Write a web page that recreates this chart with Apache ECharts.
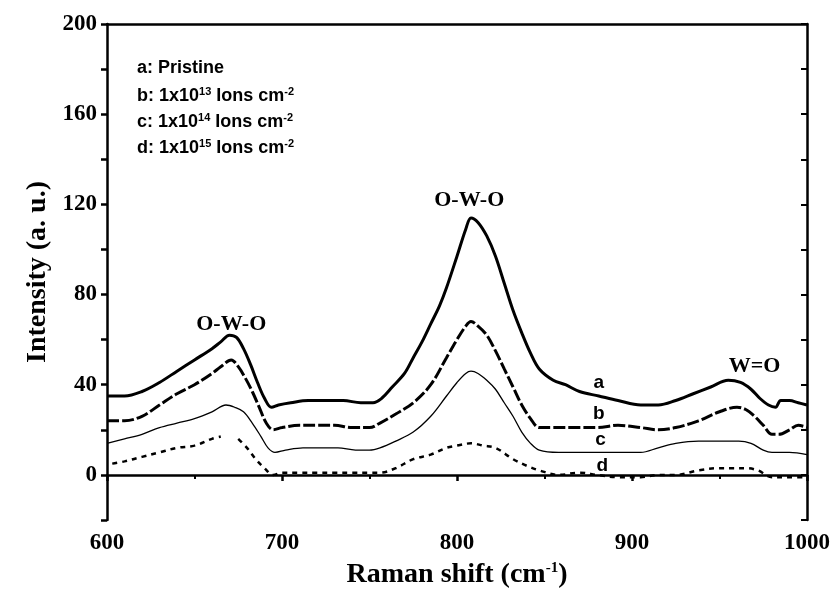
<!DOCTYPE html>
<html>
<head>
<meta charset="utf-8">
<script src="https://cdn.jsdelivr.net/npm/echarts@6/dist/echarts.min.js"></script>
<style>html,body{margin:0;padding:0;background:#fff;}#c{width:833px;height:598px;}</style>
</head>
<body>
<div id="c"></div>
<script>
// Raman shift (cm^-1) and intensity values for each curve
const xA = [600,610,620,630,640,650,660,665,670,674,678,682,686,690,694,698,705,715,725,735,745,752,757,763,770,775,780,785,790,794,800,805,808,812,817,822,827,832,837,842,847,855,862,870,881,892,905,915,925,935,945,955,962,968,973,978,982,985,990,995,1000];
const yA = [35,35,37,41,46,51,56,59,62,61,56,49,41,34,30,31,32,33,33,33,32,32,34,39,45,52,59,67,75,83,97,109,114,112,106,97,85,73,63,54,47,42,40,37,35,33,31,31,33,36,39,42,41,38,34,31,30,33,33,32,31];
const xB = [600,610,620,630,640,650,660,665,671,675,679,683,687,691,695,700,710,720,730,740,750,756,765,775,785,794,800,805,808,812,817,822,827,832,837,842,847,855,870,880,892,905,915,925,938,950,960,965,970,975,980,984,990,995,1000];
const yB = [24,24,26,31,36,40,45,48,51,48,43,37,30,23,20,21,22,22,22,21,21,23,27,32,40,52,60,66,68,66,62,55,47,39,31,25,21,21,21,21,22,21,20,21,24,28,30,29,26,22,18,18,20,22,21];
const xC = [600,610,620,630,640,650,660,668,673,678,683,688,692,696,702,712,722,732,742,750,756,765,775,785,794,800,805,808,812,817,822,827,832,837,842,847,858,870,880,892,905,915,925,938,950,961,968,975,980,990,1000];
const yC = [14,16,18,21,23,25,28,31,30,28,23,17,12,10,11,12,12,12,11,11,12,15,19,26,35,41,45,46,45,42,38,32,26,19,14,11,10,10,10,10,10,12,14,15,15,15,14,11,10,10,9];
const xD = [603,610,620,630,640,650,660,665,669,675,680,685,690,695,700,710,720,730,740,750,756,765,775,785,794,800,808,815,822,832,840,847,858,870,880,892,905,915,925,938,950,957,965,972,980,990,1000];
const yD = [5,6,8,10,12,13,16,17,null,16,12,7,3,0,1,1,1,1,1,1,1,3,7,9,12,13,14,13,12,7,4,2,0,1,0,-1,-1,0,0,2,3,3,3,2,-1,-1,-1];

const yTickLabels = ['0','40','80','120','160','200'];
const xTickLabels = ['600','700','800','900','1000'];

// annotation texts, anchored in data coordinates
const peakLabels = [['O-W-O',671,67],['O-W-O',807,122],['W=O',970,48]];
const curveLetters = [['a',881,41],['b',881,27],['c',882,15.5],['d',883,4]];

function zip(xs, ys){ return xs.map((x,i)=>[x, ys[i]]); }

const chart = echarts.init(document.getElementById('c'), null, {renderer:'canvas'});
const serifBold = {fontFamily:'Liberation Serif', fontWeight:'bold', color:'#000'};

function mk(name, xs, ys, width, type){
  return {name, type:'line', data: zip(xs, ys), showSymbol:false, smooth:0.35,
    connectNulls:false, lineStyle:{color:'#000', width, type}, z:3};
}

chart.setOption({
  animation:false,
  backgroundColor:'#fff',
  grid:{left:107, right:25, top:24, bottom:78, containLabel:false},
  xAxis:[{type:'value', min:600, max:1000, interval:100,
      axisLine:{lineStyle:{color:'#000', width:2.5}},
      axisTick:{inside:false, length:6, lineStyle:{color:'#000', width:2.5}},
      minorTick:{show:true, splitNumber:2, length:4, lineStyle:{color:'#000', width:2}},
      splitLine:{show:false},
      axisLabel:Object.assign({fontSize:23, margin:12, formatter:v=>xTickLabels.includes(String(v))?String(v):''}, serifBold),
      name:'Raman shift (cm{s|-1})', nameLocation:'middle', nameGap:41,
      nameTextStyle:Object.assign({fontSize:28, rich:{s:{fontSize:15, fontFamily:'Liberation Serif', fontWeight:'bold', verticalAlign:'top', padding:[0,0,12,0]}}}, serifBold)},
    {type:'value', position:'top', min:600, max:1000, interval:100,
      axisLine:{show:true, onZero:false, lineStyle:{color:'#000', width:2.5}},
      axisTick:{show:false}, axisLabel:{show:false}, splitLine:{show:false}}],
  yAxis:[{type:'value', min:-20, max:200, interval:20,
      axisLine:{onZero:false, lineStyle:{color:'#000', width:2.5}},
      axisTick:{length:6, lineStyle:{color:'#000', width:2.5}},
      splitLine:{show:false},
      axisLabel:Object.assign({fontSize:23, margin:10, formatter:v=>yTickLabels.includes(String(v))?String(v):''}, serifBold),
      name:'Intensity (a. u.)', nameLocation:'middle', nameGap:52, nameRotate:90,
      nameTextStyle:Object.assign({fontSize:28}, serifBold)},
    {type:'value', position:'right', min:-20, max:200, interval:20,
      axisLine:{show:true, onZero:false, lineStyle:{color:'#000', width:2.5}},
      axisTick:{show:true, inside:true, length:6, lineStyle:{color:'#000', width:2}},
      axisLabel:{show:false}, splitLine:{show:false}}],
  series:[
    mk('a', xA, yA, 3, 'solid'),
    mk('b', xB, yB, 3, [12,3]),
    mk('c', xC, yC, 1.3, 'solid'),
    mk('d', xD, yD, 2.5, [5,5])
  ]
});

// Annotations placed from data coordinates
const g = [];
peakLabels.concat(curveLetters).forEach(([t,x,y])=>{
  const p = chart.convertToPixel({xAxisIndex:0, yAxisIndex:0}, [x,y]);
  const isLetter = t.length === 1;
  g.push({type:'text', x:p[0], y:p[1], z:10, style:{text:t, x:0, y:0, align:'center', verticalAlign:'middle',
    font: isLetter ? 'bold 19px "Liberation Sans"' : 'bold 22px "Liberation Serif"', fill:'#000'}});
});
// Legend text block
const legendLines = [
  ['a: Pristine', null, '', null],
  ['b: 1x10', '13', ' Ions cm', '-2'],
  ['c: 1x10', '14', ' Ions cm', '-2'],
  ['d: 1x10', '15', ' Ions cm', '-2']
];
const legendY = [70, 97, 123, 149];
legendLines.forEach((ln, i)=>{
  let txt = ln[0];
  if (ln[1]) txt = ln[0] + '{s|' + ln[1] + '}' + ln[2] + '{s|' + ln[3] + '}';
  g.push({type:'text', left:137, top:legendY[i]-11, z:10, style:{text:txt,
    font:'bold 18px "Liberation Sans"', fill:'#000',
    rich:{s:{font:'bold 11px "Liberation Sans"', fill:'#000', verticalAlign:'top', padding:[0,0,9,0]}}}});
});
chart.setOption({graphic:g});
</script>
</body>
</html>
